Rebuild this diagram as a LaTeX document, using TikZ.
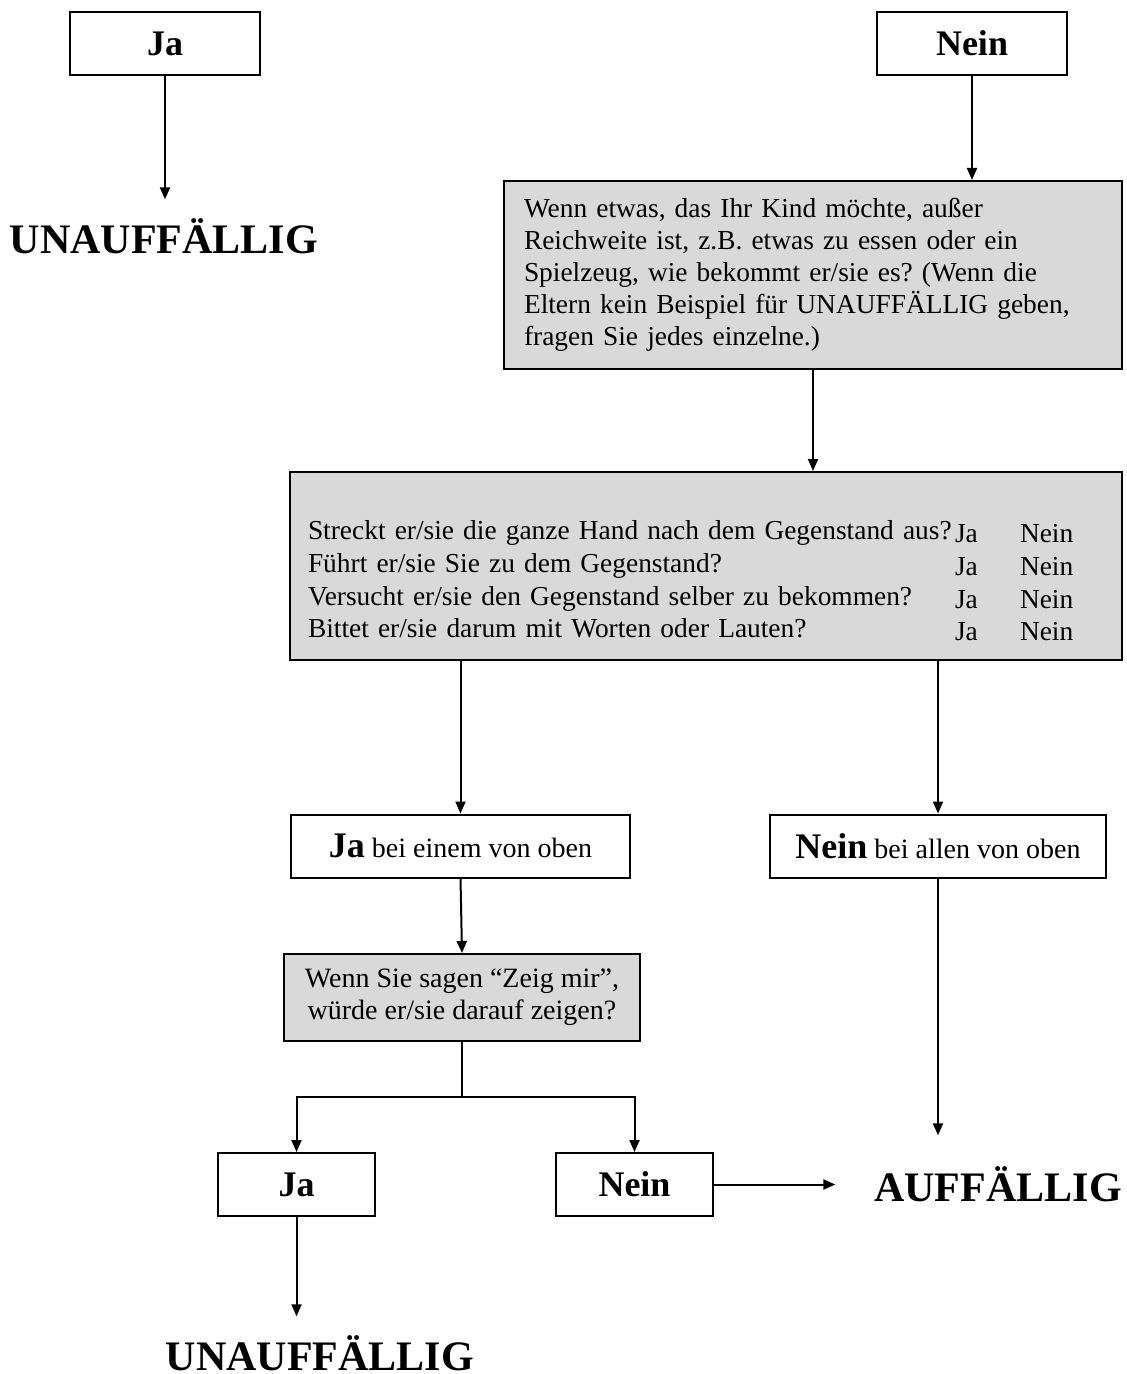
\documentclass[tikz,border=0pt]{standalone}
\usepackage{fontspec}
\setmainfont{Liberation Serif}
\usetikzlibrary{arrows.meta}
\usetikzlibrary{calc}
\frenchspacing

\begin{document}
\begin{tikzpicture}[x=0.5pt, y=-0.5pt, line width=1pt,
    >={Triangle[length=6pt, width=5pt]},
    answerbox/.style={draw, minimum height=31.5pt, inner sep=0pt,
      font=\fontsize{18}{20}\selectfont\bfseries},
    questionbox/.style={draw, fill=gray!30, inner ysep=0pt},
    result/.style={inner sep=9pt, font=\fontsize{21}{24}\selectfont\bfseries}]
      \useasboundingbox (0,0) rectangle (1126,1374);

      \node[answerbox, minimum width=95pt] (jaTop) at (165,43.5) {Ja};
      \node[answerbox, minimum width=95pt] (neinTop) at (972,43.5) {Nein};
      \node[result] (unaufTop) at (164,236) {UNAUFFÄLLIG};

      \node[questionbox, inner xsep=10pt, text width=289pt, align=left, minimum height=94pt,
        font=\fontsize{13.7}{16}\selectfont] (frageEins) at (813,275)
        {Wenn etwas, das Ihr Kind möchte, außer\\
         Reichweite ist, z.B. etwas zu essen oder ein\\
         Spielzeug, wie bekommt er/sie es? (Wenn die\\
         Eltern kein Beispiel für UNAUFFÄLLIG geben,\\
         fragen Sie jedes einzelne.)};

      \node[questionbox, inner xsep=9pt, text width=398pt, align=left, minimum height=94pt,
        font=\fontsize{13.7}{16.3}\selectfont] (frageZwei) at (706,566)
        {\begin{tabular}{@{}p{323.5pt}@{}p{32.5pt}@{}l@{}}
          & & \\
          Streckt er/sie die ganze Hand nach dem Gegenstand aus? & \raisebox{-1.5pt}{Ja} & \raisebox{-1.5pt}{Nein}\\
          Führt er/sie Sie zu dem Gegenstand? & \raisebox{-1.5pt}{Ja} & \raisebox{-1.5pt}{Nein}\\
          Versucht er/sie den Gegenstand selber zu bekommen? & \raisebox{-1.5pt}{Ja} & \raisebox{-1.5pt}{Nein}\\
          Bittet er/sie darum mit Worten oder Lauten? & \raisebox{-1.5pt}{Ja} & \raisebox{-1.5pt}{Nein}
        \end{tabular}};

      \node[answerbox, minimum width=169.5pt, font=\fontsize{14}{16}\selectfont] (jaEins) at (460.5,846)
        {\textbf{\fontsize{18}{20}\selectfont Ja} bei einem von oben};
      \node[answerbox, minimum width=168pt, font=\fontsize{14}{16}\selectfont] (neinAlle) at (938,846)
        {\textbf{\fontsize{18}{20}\selectfont Nein} bei allen von oben};

      \node[questionbox, inner xsep=0pt, minimum width=178pt, minimum height=43.5pt, align=center,
        font=\fontsize{14}{16}\selectfont] (frageDrei) at (462,997.5)
        {Wenn Sie sagen “Zeig mir”,\\ würde er/sie darauf zeigen?};
      \coordinate (gabel) at (462,1097);

      \node[answerbox, minimum width=78.5pt] (jaUnten) at (296.5,1184.5) {Ja};
      \node[answerbox, minimum width=78.5pt] (neinUnten) at (634.5,1184.5) {Nein};
      \node[result, inner xsep=19pt, inner ysep=15pt] (auf) at (998,1184) {AUFFÄLLIG};
      \node[result] (unaufUnten) at (320,1353) {UNAUFFÄLLIG};

      \draw[->] (jaTop.south) -- (jaTop.south |- unaufTop.north);
      \draw[->] (neinTop.south) -- (neinTop.south |- frageEins.north);
      \draw[->] (frageEins.south) -- (frageEins.south |- frageZwei.north);
      \draw[->] (frageZwei.south -| jaEins) -- (jaEins.north);
      \draw[->] (frageZwei.south -| neinAlle) -- (neinAlle.north);
      \draw[->] (jaEins.south) -- (frageDrei.north);
      \draw (frageDrei.south) -- (gabel);
      \draw[->] (gabel) -| (jaUnten.north);
      \draw[->] (gabel) -| (neinUnten.north);
      \draw[->] (neinUnten.east) -- (neinUnten.east -| auf.west);
      \draw[->] (neinAlle.south) -- (neinAlle.south |- auf.north);
      \draw[->] (jaUnten.south) -- (jaUnten.south |- unaufUnten.north);

    \end{tikzpicture}
\end{document}
